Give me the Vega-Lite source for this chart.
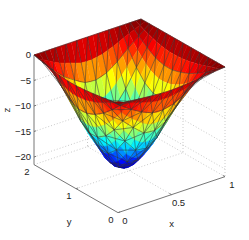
{"$schema":"https://vega.github.io/schema/vega-lite/v6.json","width":249,"height":240,"padding":0,"autosize":{"type":"none"},"background":"white","config":{"view":{"stroke":null}},
"datasets":{"v":[
{"i":20,"j":20,"z":0},{"i":20,"j":19,"z":0},{"i":20,"j":18,"z":0},{"i":20,"j":17,"z":0},{"i":20,"j":16,"z":0},{"i":20,"j":15,"z":0},{"i":20,"j":14,"z":0},{"i":20,"j":13,"z":0},{"i":20,"j":12,"z":0},{"i":20,"j":11,"z":0},{"i":20,"j":10,"z":0},{"i":20,"j":9,"z":0},{"i":20,"j":8,"z":0},{"i":20,"j":7,"z":0},{"i":20,"j":6,"z":0},{"i":20,"j":5,"z":0},{"i":20,"j":4,"z":0},{"i":20,"j":3,"z":0},{"i":20,"j":2,"z":0},{"i":20,"j":1,"z":0},{"i":20,"j":0,"z":0},
{"i":19,"j":20,"z":0},{"i":19,"j":19,"z":-0.4},{"i":19,"j":18,"z":-0.8},{"i":19,"j":17,"z":-1.2},{"i":19,"j":16,"z":-1.5},{"i":19,"j":15,"z":-1.8},{"i":19,"j":14,"z":-2},{"i":19,"j":13,"z":-2.2},{"i":19,"j":12,"z":-2.3},{"i":19,"j":11,"z":-2.3},{"i":19,"j":10,"z":-2.3},{"i":19,"j":9,"z":-2.2},{"i":19,"j":8,"z":-2.1},{"i":19,"j":7,"z":-1.9},{"i":19,"j":6,"z":-1.7},{"i":19,"j":5,"z":-1.5},{"i":19,"j":4,"z":-1.2},{"i":19,"j":3,"z":-0.9},{"i":19,"j":2,"z":-0.6},{"i":19,"j":1,"z":-0.3},{"i":19,"j":0,"z":-0.1},
{"i":18,"j":20,"z":0},{"i":18,"j":19,"z":-0.9},{"i":18,"j":18,"z":-1.7},{"i":18,"j":17,"z":-2.4},{"i":18,"j":16,"z":-3},{"i":18,"j":15,"z":-3.6},{"i":18,"j":14,"z":-4.1},{"i":18,"j":13,"z":-4.4},{"i":18,"j":12,"z":-4.6},{"i":18,"j":11,"z":-4.6},{"i":18,"j":10,"z":-4.6},{"i":18,"j":9,"z":-4.4},{"i":18,"j":8,"z":-4.1},{"i":18,"j":7,"z":-3.8},{"i":18,"j":6,"z":-3.4},{"i":18,"j":5,"z":-2.9},{"i":18,"j":4,"z":-2.4},{"i":18,"j":3,"z":-1.9},{"i":18,"j":2,"z":-1.3},{"i":18,"j":1,"z":-0.6},{"i":18,"j":0,"z":-0.2},
{"i":17,"j":20,"z":0},{"i":17,"j":19,"z":-1.3},{"i":17,"j":18,"z":-2.5},{"i":17,"j":17,"z":-3.6},{"i":17,"j":16,"z":-4.6},{"i":17,"j":15,"z":-5.4},{"i":17,"j":14,"z":-6.1},{"i":17,"j":13,"z":-6.6},{"i":17,"j":12,"z":-6.9},{"i":17,"j":11,"z":-6.9},{"i":17,"j":10,"z":-6.8},{"i":17,"j":9,"z":-6.6},{"i":17,"j":8,"z":-6.2},{"i":17,"j":7,"z":-5.7},{"i":17,"j":6,"z":-5.1},{"i":17,"j":5,"z":-4.4},{"i":17,"j":4,"z":-3.6},{"i":17,"j":3,"z":-2.8},{"i":17,"j":2,"z":-1.9},{"i":17,"j":1,"z":-1},{"i":17,"j":0,"z":-0.3},
{"i":16,"j":20,"z":0},{"i":16,"j":19,"z":-1.8},{"i":16,"j":18,"z":-3.4},{"i":16,"j":17,"z":-4.9},{"i":16,"j":16,"z":-6.2},{"i":16,"j":15,"z":-7.4},{"i":16,"j":14,"z":-8.3},{"i":16,"j":13,"z":-9},{"i":16,"j":12,"z":-9.4},{"i":16,"j":11,"z":-9.5},{"i":16,"j":10,"z":-9.3},{"i":16,"j":9,"z":-9},{"i":16,"j":8,"z":-8.4},{"i":16,"j":7,"z":-7.7},{"i":16,"j":6,"z":-6.9},{"i":16,"j":5,"z":-6},{"i":16,"j":4,"z":-4.9},{"i":16,"j":3,"z":-3.9},{"i":16,"j":2,"z":-2.6},{"i":16,"j":1,"z":-1.3},{"i":16,"j":0,"z":-0.45},
{"i":15,"j":20,"z":0},{"i":15,"j":19,"z":-2.3},{"i":15,"j":18,"z":-4.4},{"i":15,"j":17,"z":-6.3},{"i":15,"j":16,"z":-8},{"i":15,"j":15,"z":-9.5},{"i":15,"j":14,"z":-10.7},{"i":15,"j":13,"z":-11.6},{"i":15,"j":12,"z":-12.1},{"i":15,"j":11,"z":-12.2},{"i":15,"j":10,"z":-12},{"i":15,"j":9,"z":-11.6},{"i":15,"j":8,"z":-10.8},{"i":15,"j":7,"z":-10},{"i":15,"j":6,"z":-8.9},{"i":15,"j":5,"z":-7.7},{"i":15,"j":4,"z":-6.3},{"i":15,"j":3,"z":-5},{"i":15,"j":2,"z":-3.4},{"i":15,"j":1,"z":-1.7},{"i":15,"j":0,"z":-0.6},
{"i":14,"j":20,"z":0},{"i":14,"j":19,"z":-2.8},{"i":14,"j":18,"z":-5.3},{"i":14,"j":17,"z":-7.6},{"i":14,"j":16,"z":-9.7},{"i":14,"j":15,"z":-11.5},{"i":14,"j":14,"z":-12.9},{"i":14,"j":13,"z":-14},{"i":14,"j":12,"z":-14.6},{"i":14,"j":11,"z":-14.7},{"i":14,"j":10,"z":-14.5},{"i":14,"j":9,"z":-14},{"i":14,"j":8,"z":-13.1},{"i":14,"j":7,"z":-12.1},{"i":14,"j":6,"z":-10.7},{"i":14,"j":5,"z":-9.3},{"i":14,"j":4,"z":-7.6},{"i":14,"j":3,"z":-6},{"i":14,"j":2,"z":-4.1},{"i":14,"j":1,"z":-2.1},{"i":14,"j":0,"z":-0.7},
{"i":13,"j":20,"z":0},{"i":13,"j":19,"z":-3.2},{"i":13,"j":18,"z":-6.1},{"i":13,"j":17,"z":-8.8},{"i":13,"j":16,"z":-11.2},{"i":13,"j":15,"z":-13.3},{"i":13,"j":14,"z":-15},{"i":13,"j":13,"z":-16.2},{"i":13,"j":12,"z":-16.8},{"i":13,"j":11,"z":-17},{"i":13,"j":10,"z":-16.7},{"i":13,"j":9,"z":-16.2},{"i":13,"j":8,"z":-15.1},{"i":13,"j":7,"z":-13.9},{"i":13,"j":6,"z":-12.4},{"i":13,"j":5,"z":-10.7},{"i":13,"j":4,"z":-8.8},{"i":13,"j":3,"z":-7},{"i":13,"j":2,"z":-4.8},{"i":13,"j":1,"z":-2.4},{"i":13,"j":0,"z":-0.8},
{"i":12,"j":20,"z":0},{"i":12,"j":19,"z":-3.6},{"i":12,"j":18,"z":-6.8},{"i":12,"j":17,"z":-9.8},{"i":12,"j":16,"z":-12.5},{"i":12,"j":15,"z":-14.7},{"i":12,"j":14,"z":-16.6},{"i":12,"j":13,"z":-18},{"i":12,"j":12,"z":-18.7},{"i":12,"j":11,"z":-18.9},{"i":12,"j":10,"z":-18.6},{"i":12,"j":9,"z":-18},{"i":12,"j":8,"z":-16.8},{"i":12,"j":7,"z":-15.5},{"i":12,"j":6,"z":-13.8},{"i":12,"j":5,"z":-11.9},{"i":12,"j":4,"z":-9.8},{"i":12,"j":3,"z":-7.7},{"i":12,"j":2,"z":-5.3},{"i":12,"j":1,"z":-2.6},{"i":12,"j":0,"z":-0.9},
{"i":11,"j":20,"z":0},{"i":11,"j":19,"z":-3.8},{"i":11,"j":18,"z":-7.3},{"i":11,"j":17,"z":-10.5},{"i":11,"j":16,"z":-13.3},{"i":11,"j":15,"z":-15.7},{"i":11,"j":14,"z":-17.7},{"i":11,"j":13,"z":-19.2},{"i":11,"j":12,"z":-20},{"i":11,"j":11,"z":-20.2},{"i":11,"j":10,"z":-19.9},{"i":11,"j":9,"z":-19.2},{"i":11,"j":8,"z":-17.9},{"i":11,"j":7,"z":-16.5},{"i":11,"j":6,"z":-14.7},{"i":11,"j":5,"z":-12.7},{"i":11,"j":4,"z":-10.5},{"i":11,"j":3,"z":-8.3},{"i":11,"j":2,"z":-5.6},{"i":11,"j":1,"z":-2.8},{"i":11,"j":0,"z":-0.95},
{"i":10,"j":20,"z":0},{"i":10,"j":19,"z":-4},{"i":10,"j":18,"z":-7.5},{"i":10,"j":17,"z":-10.8},{"i":10,"j":16,"z":-13.7},{"i":10,"j":15,"z":-16.2},{"i":10,"j":14,"z":-18.3},{"i":10,"j":13,"z":-19.8},{"i":10,"j":12,"z":-20.6},{"i":10,"j":11,"z":-20.8},{"i":10,"j":10,"z":-20.5},{"i":10,"j":9,"z":-19.8},{"i":10,"j":8,"z":-18.5},{"i":10,"j":7,"z":-17},{"i":10,"j":6,"z":-15.2},{"i":10,"j":5,"z":-13.1},{"i":10,"j":4,"z":-10.8},{"i":10,"j":3,"z":-8.5},{"i":10,"j":2,"z":-5.8},{"i":10,"j":1,"z":-2.9},{"i":10,"j":0,"z":-1},
{"i":9,"j":20,"z":0},{"i":9,"j":19,"z":-4},{"i":9,"j":18,"z":-7.6},{"i":9,"j":17,"z":-10.9},{"i":9,"j":16,"z":-13.9},{"i":9,"j":15,"z":-16.4},{"i":9,"j":14,"z":-18.5},{"i":9,"j":13,"z":-20},{"i":9,"j":12,"z":-20.8},{"i":9,"j":11,"z":-21},{"i":9,"j":10,"z":-20.7},{"i":9,"j":9,"z":-20},{"i":9,"j":8,"z":-18.7},{"i":9,"j":7,"z":-17.2},{"i":9,"j":6,"z":-15.3},{"i":9,"j":5,"z":-13.2},{"i":9,"j":4,"z":-10.9},{"i":9,"j":3,"z":-8.6},{"i":9,"j":2,"z":-5.9},{"i":9,"j":1,"z":-2.9},{"i":9,"j":0,"z":-1},
{"i":8,"j":20,"z":0},{"i":8,"j":19,"z":-3.9},{"i":8,"j":18,"z":-7.3},{"i":8,"j":17,"z":-10.6},{"i":8,"j":16,"z":-13.4},{"i":8,"j":15,"z":-15.9},{"i":8,"j":14,"z":-17.9},{"i":8,"j":13,"z":-19.4},{"i":8,"j":12,"z":-20.2},{"i":8,"j":11,"z":-20.4},{"i":8,"j":10,"z":-20.1},{"i":8,"j":9,"z":-19.4},{"i":8,"j":8,"z":-18.1},{"i":8,"j":7,"z":-16.7},{"i":8,"j":6,"z":-14.9},{"i":8,"j":5,"z":-12.8},{"i":8,"j":4,"z":-10.6},{"i":8,"j":3,"z":-8.4},{"i":8,"j":2,"z":-5.7},{"i":8,"j":1,"z":-2.9},{"i":8,"j":0,"z":-0.95},
{"i":7,"j":20,"z":0},{"i":7,"j":19,"z":-3.6},{"i":7,"j":18,"z":-6.9},{"i":7,"j":17,"z":-9.9},{"i":7,"j":16,"z":-12.6},{"i":7,"j":15,"z":-14.9},{"i":7,"j":14,"z":-16.8},{"i":7,"j":13,"z":-18.1},{"i":7,"j":12,"z":-18.9},{"i":7,"j":11,"z":-19.1},{"i":7,"j":10,"z":-18.8},{"i":7,"j":9,"z":-18.1},{"i":7,"j":8,"z":-17},{"i":7,"j":7,"z":-15.7},{"i":7,"j":6,"z":-13.9},{"i":7,"j":5,"z":-12},{"i":7,"j":4,"z":-9.9},{"i":7,"j":3,"z":-7.8},{"i":7,"j":2,"z":-5.3},{"i":7,"j":1,"z":-2.7},{"i":7,"j":0,"z":-0.9},
{"i":6,"j":20,"z":0},{"i":6,"j":19,"z":-3.2},{"i":6,"j":18,"z":-6.1},{"i":6,"j":17,"z":-8.8},{"i":6,"j":16,"z":-11.2},{"i":6,"j":15,"z":-13.3},{"i":6,"j":14,"z":-15},{"i":6,"j":13,"z":-16.2},{"i":6,"j":12,"z":-16.8},{"i":6,"j":11,"z":-17},{"i":6,"j":10,"z":-16.7},{"i":6,"j":9,"z":-16.2},{"i":6,"j":8,"z":-15.1},{"i":6,"j":7,"z":-13.9},{"i":6,"j":6,"z":-12.4},{"i":6,"j":5,"z":-10.7},{"i":6,"j":4,"z":-8.8},{"i":6,"j":3,"z":-7},{"i":6,"j":2,"z":-4.8},{"i":6,"j":1,"z":-2.4},{"i":6,"j":0,"z":-0.8},
{"i":5,"j":20,"z":0},{"i":5,"j":19,"z":-2.9},{"i":5,"j":18,"z":-5.4},{"i":5,"j":17,"z":-7.9},{"i":5,"j":16,"z":-10},{"i":5,"j":15,"z":-11.8},{"i":5,"j":14,"z":-13.3},{"i":5,"j":13,"z":-14.4},{"i":5,"j":12,"z":-15},{"i":5,"j":11,"z":-15.1},{"i":5,"j":10,"z":-14.9},{"i":5,"j":9,"z":-14.4},{"i":5,"j":8,"z":-13.5},{"i":5,"j":7,"z":-12.4},{"i":5,"j":6,"z":-11},{"i":5,"j":5,"z":-9.5},{"i":5,"j":4,"z":-7.9},{"i":5,"j":3,"z":-6.2},{"i":5,"j":2,"z":-4.2},{"i":5,"j":1,"z":-2.1},{"i":5,"j":0,"z":-0.7},
{"i":4,"j":20,"z":0},{"i":4,"j":19,"z":-2.5},{"i":4,"j":18,"z":-4.7},{"i":4,"j":17,"z":-6.8},{"i":4,"j":16,"z":-8.6},{"i":4,"j":15,"z":-10.2},{"i":4,"j":14,"z":-11.5},{"i":4,"j":13,"z":-12.4},{"i":4,"j":12,"z":-12.9},{"i":4,"j":11,"z":-13},{"i":4,"j":10,"z":-12.8},{"i":4,"j":9,"z":-12.4},{"i":4,"j":8,"z":-11.6},{"i":4,"j":7,"z":-10.7},{"i":4,"j":6,"z":-9.5},{"i":4,"j":5,"z":-8.2},{"i":4,"j":4,"z":-6.8},{"i":4,"j":3,"z":-5.3},{"i":4,"j":2,"z":-3.6},{"i":4,"j":1,"z":-1.8},{"i":4,"j":0,"z":-0.6},
{"i":3,"j":20,"z":0},{"i":3,"j":19,"z":-2},{"i":3,"j":18,"z":-3.8},{"i":3,"j":17,"z":-5.5},{"i":3,"j":16,"z":-6.9},{"i":3,"j":15,"z":-8.2},{"i":3,"j":14,"z":-9.2},{"i":3,"j":13,"z":-10},{"i":3,"j":12,"z":-10.4},{"i":3,"j":11,"z":-10.5},{"i":3,"j":10,"z":-10.3},{"i":3,"j":9,"z":-10},{"i":3,"j":8,"z":-9.3},{"i":3,"j":7,"z":-8.6},{"i":3,"j":6,"z":-7.7},{"i":3,"j":5,"z":-6.6},{"i":3,"j":4,"z":-5.5},{"i":3,"j":3,"z":-4.3},{"i":3,"j":2,"z":-2.9},{"i":3,"j":1,"z":-1.5},{"i":3,"j":0,"z":-0.5},
{"i":2,"j":20,"z":0},{"i":2,"j":19,"z":-1.4},{"i":2,"j":18,"z":-2.7},{"i":2,"j":17,"z":-3.9},{"i":2,"j":16,"z":-5},{"i":2,"j":15,"z":-5.9},{"i":2,"j":14,"z":-6.7},{"i":2,"j":13,"z":-7.2},{"i":2,"j":12,"z":-7.5},{"i":2,"j":11,"z":-7.6},{"i":2,"j":10,"z":-7.4},{"i":2,"j":9,"z":-7.2},{"i":2,"j":8,"z":-6.7},{"i":2,"j":7,"z":-6.2},{"i":2,"j":6,"z":-5.5},{"i":2,"j":5,"z":-4.8},{"i":2,"j":4,"z":-3.9},{"i":2,"j":3,"z":-3.1},{"i":2,"j":2,"z":-2.1},{"i":2,"j":1,"z":-1.1},{"i":2,"j":0,"z":-0.35},
{"i":1,"j":20,"z":0},{"i":1,"j":19,"z":-0.8},{"i":1,"j":18,"z":-1.5},{"i":1,"j":17,"z":-2.2},{"i":1,"j":16,"z":-2.8},{"i":1,"j":15,"z":-3.3},{"i":1,"j":14,"z":-3.7},{"i":1,"j":13,"z":-4},{"i":1,"j":12,"z":-4.2},{"i":1,"j":11,"z":-4.2},{"i":1,"j":10,"z":-4.1},{"i":1,"j":9,"z":-4},{"i":1,"j":8,"z":-3.7},{"i":1,"j":7,"z":-3.4},{"i":1,"j":6,"z":-3.1},{"i":1,"j":5,"z":-2.6},{"i":1,"j":4,"z":-2.2},{"i":1,"j":3,"z":-1.7},{"i":1,"j":2,"z":-1.2},{"i":1,"j":1,"z":-0.6},{"i":1,"j":0,"z":-0.25},
{"i":0,"j":20,"z":0},{"i":0,"j":19,"z":-0.25},{"i":0,"j":18,"z":-0.45},{"i":0,"j":17,"z":-0.7},{"i":0,"j":16,"z":-0.85},{"i":0,"j":15,"z":-1},{"i":0,"j":14,"z":-1.15},{"i":0,"j":13,"z":-1.2},{"i":0,"j":12,"z":-1.3},{"i":0,"j":11,"z":-1.3},{"i":0,"j":10,"z":-1.3},{"i":0,"j":9,"z":-1.2},{"i":0,"j":8,"z":-1.15},{"i":0,"j":7,"z":-1.05},{"i":0,"j":6,"z":-0.95},{"i":0,"j":5,"z":-0.8},{"i":0,"j":4,"z":-0.7},{"i":0,"j":3,"z":-0.5},{"i":0,"j":2,"z":-0.4},{"i":0,"j":1,"z":-0.3},{"i":0,"j":0,"z":-0.3}
],
"g":[
{"t":"grid","x":0,"y":2,"z":0,"u":1,"v":2,"w":0},{"t":"grid","x":0,"y":2,"z":-5,"u":1,"v":2,"w":-5},{"t":"grid","x":0,"y":2,"z":-10,"u":1,"v":2,"w":-10},{"t":"grid","x":0,"y":2,"z":-15,"u":1,"v":2,"w":-15},{"t":"grid","x":0,"y":2,"z":-20,"u":1,"v":2,"w":-20},
{"t":"grid","x":1,"y":2,"z":0,"u":1,"v":0,"w":0},{"t":"grid","x":1,"y":2,"z":-5,"u":1,"v":0,"w":-5},{"t":"grid","x":1,"y":2,"z":-10,"u":1,"v":0,"w":-10},{"t":"grid","x":1,"y":2,"z":-15,"u":1,"v":0,"w":-15},{"t":"grid","x":1,"y":2,"z":-20,"u":1,"v":0,"w":-20},
{"t":"grid","x":0.5,"y":2,"z":0,"u":0.5,"v":2,"w":-21.5},{"t":"grid","x":1,"y":2,"z":0,"u":1,"v":2,"w":-21.5},{"t":"grid","x":1,"y":1,"z":0,"u":1,"v":1,"w":-21.5},{"t":"grid","x":1,"y":0,"z":0,"u":1,"v":0,"w":-21.5},
{"t":"grid","x":0.5,"y":0,"z":-21.5,"u":0.5,"v":2,"w":-21.5},{"t":"grid","x":0,"y":1,"z":-21.5,"u":1,"v":1,"w":-21.5},{"t":"grid","x":0,"y":2,"z":-21.5,"u":1,"v":2,"w":-21.5},{"t":"grid","x":1,"y":0,"z":-21.5,"u":1,"v":2,"w":-21.5},
{"t":"axis","x":0,"y":2,"z":0,"u":0,"v":2,"w":-21.5},{"t":"axis","x":0,"y":0,"z":-21.5,"u":0,"v":2,"w":-21.5},{"t":"axis","x":0,"y":0,"z":-21.5,"u":1,"v":0,"w":-21.5},
{"t":"axis","x":0,"y":2,"z":0,"u":0.02,"v":2,"w":0},{"t":"axis","x":0,"y":2,"z":-5,"u":0.02,"v":2,"w":-5},{"t":"axis","x":0,"y":2,"z":-10,"u":0.02,"v":2,"w":-10},{"t":"axis","x":0,"y":2,"z":-15,"u":0.02,"v":2,"w":-15},{"t":"axis","x":0,"y":2,"z":-20,"u":0.02,"v":2,"w":-20},
{"t":"axis","x":0.5,"y":0,"z":-21.5,"u":0.5,"v":0.05,"w":-21.5},{"t":"axis","x":1,"y":0,"z":-21.5,"u":1,"v":0.05,"w":-21.5},{"t":"axis","x":0,"y":1,"z":-21.5,"u":0.02,"v":1,"w":-21.5},{"t":"axis","x":0,"y":0,"z":-21.5,"u":0.02,"v":0,"w":-21.5}
],
"l":[
{"t":"z","x":0,"y":2,"z":0,"s":"0"},{"t":"z","x":0,"y":2,"z":-5,"s":"−5"},{"t":"z","x":0,"y":2,"z":-10,"s":"−10"},{"t":"z","x":0,"y":2,"z":-15,"s":"−15"},{"t":"z","x":0,"y":2,"z":-20,"s":"−20"},
{"t":"x","x":0,"y":0,"z":-21.5,"s":"0"},{"t":"x","x":0.5,"y":0,"z":-21.5,"s":"0.5"},{"t":"x","x":1,"y":0,"z":-21.5,"s":"1"},
{"t":"y","x":0,"y":0,"z":-21.5,"s":"0"},{"t":"y","x":0,"y":1,"z":-21.5,"s":"1"},{"t":"y","x":0,"y":2,"z":-21.5,"s":"2"},
{"t":"tx","x":0.5,"y":0,"z":-21.5,"s":"x"},{"t":"ty","x":0,"y":1,"z":-21.5,"s":"y"},{"t":"tz","x":0,"y":2,"z":-10,"s":"z"}
]},
"layer":[
{"data":{"name":"g"},"transform":[{"filter":"datum.t=='grid'"},{"calculate":"118+107*datum.x-42*datum.y","as":"px"},{"calculate":"103-36*datum.x-24*datum.y-5.1*datum.z","as":"py"},{"calculate":"118+107*datum.u-42*datum.v","as":"qx"},{"calculate":"103-36*datum.u-24*datum.v-5.1*datum.w","as":"qy"}],
"mark":{"type":"rule","stroke":"#bdbdbd","strokeWidth":0.8,"strokeDash":[1,2]},
"encoding":{"x":{"field":"px","type":"quantitative","scale":{"domain":[0,249],"nice":false,"zero":false},"axis":null},"y":{"field":"py","type":"quantitative","scale":{"domain":[240,0],"nice":false,"zero":false},"axis":null},"x2":{"field":"qx"},"y2":{"field":"qy"}}},
{"data":{"name":"g"},"transform":[{"filter":"datum.t=='axis'"},{"calculate":"118+107*datum.x-42*datum.y","as":"px"},{"calculate":"103-36*datum.x-24*datum.y-5.1*datum.z","as":"py"},{"calculate":"118+107*datum.u-42*datum.v","as":"qx"},{"calculate":"103-36*datum.u-24*datum.v-5.1*datum.w","as":"qy"}],
"mark":{"type":"rule","stroke":"#777777","strokeWidth":1},
"encoding":{"x":{"field":"px","type":"quantitative","axis":null},"y":{"field":"py","type":"quantitative","axis":null},"x2":{"field":"qx"},"y2":{"field":"qy"}}},
{"data":{"name":"v"},"transform":[{"calculate":"datum.i*100+datum.j","as":"k"},{"calculate":"[datum.k-101,datum.k-100,datum.k-1,datum.k]","as":"q"},{"calculate":"[2,1,3,0]","as":"c"},{"flatten":["q","c"]},{"filter":"datum.q>=0 && datum.q%100<20 && datum.q<2000"},{"filter":"floor(datum.q/100)+datum.q%100>=20"},{"joinaggregate":[{"op":"mean","field":"z","as":"m"}],"groupby":["q"]},{"calculate":"118+5.35*datum.i-4.2*datum.j","as":"px"},{"calculate":"103-1.8*datum.i-2.4*datum.j-5.1*datum.z","as":"py"}],
"mark":{"type":"line","strokeWidth":0.5},
"encoding":{"x":{"field":"px","type":"quantitative","axis":null},"y":{"field":"py","type":"quantitative","axis":null},"detail":{"field":"q"},"order":{"field":"c","type":"quantitative"},
"fill":{"field":"m","type":"quantitative","legend":null,"scale":{"domain":[-21,-18.375,-13.125,-7.875,-2.625,0],"range":["#00007f","#0000ff","#00ffff","#ffff00","#ff0000","#7f0000"],"interpolate":"rgb"}},
"stroke":{"field":"m","type":"quantitative","legend":null,"scale":{"domain":[-21,-18.375,-13.125,-7.875,-2.625,0],"range":["#00007f","#0000ff","#00ffff","#ffff00","#ff0000","#7f0000"],"interpolate":"rgb"}}}},
{"data":{"name":"v"},"transform":[{"filter":"datum.i%2==0 && datum.j%2==0 && datum.i+datum.j>=20"},{"calculate":"'a'+datum.i","as":"la"},{"calculate":"'b'+datum.j","as":"lb"},{"calculate":"'c'+(datum.i-datum.j)","as":"lc"},{"fold":["la","lb","lc"],"as":["w","l"]},{"calculate":"datum.i+datum.j","as":"s"},{"calculate":"118+5.35*datum.i-4.2*datum.j","as":"px"},{"calculate":"103-1.8*datum.i-2.4*datum.j-5.1*datum.z","as":"py"}],
"mark":{"type":"line","stroke":"#333333","strokeWidth":0.7,"strokeOpacity":0.75},
"encoding":{"x":{"field":"px","type":"quantitative","axis":null},"y":{"field":"py","type":"quantitative","axis":null},"detail":{"field":"l"},"order":{"field":"s","type":"quantitative"}}},
{"data":{"name":"v"},"transform":[{"calculate":"datum.i*100+datum.j","as":"k"},{"calculate":"[datum.k-101,datum.k-100,datum.k-1,datum.k]","as":"q"},{"calculate":"[2,1,3,0]","as":"c"},{"flatten":["q","c"]},{"filter":"datum.q>=0 && datum.q%100<20 && datum.q<2000"},{"filter":"floor(datum.q/100)+datum.q%100<20"},{"joinaggregate":[{"op":"mean","field":"z","as":"m"}],"groupby":["q"]},{"calculate":"118+5.35*datum.i-4.2*datum.j","as":"px"},{"calculate":"103-1.8*datum.i-2.4*datum.j-5.1*datum.z","as":"py"}],
"mark":{"type":"line","strokeWidth":0.5},
"encoding":{"x":{"field":"px","type":"quantitative","axis":null},"y":{"field":"py","type":"quantitative","axis":null},"detail":{"field":"q"},"order":{"field":"c","type":"quantitative"},
"fill":{"field":"m","type":"quantitative","legend":null,"scale":{"domain":[-21,-18.375,-13.125,-7.875,-2.625,0],"range":["#00007f","#0000ff","#00ffff","#ffff00","#ff0000","#7f0000"],"interpolate":"rgb"}},
"stroke":{"field":"m","type":"quantitative","legend":null,"scale":{"domain":[-21,-18.375,-13.125,-7.875,-2.625,0],"range":["#00007f","#0000ff","#00ffff","#ffff00","#ff0000","#7f0000"],"interpolate":"rgb"}}}},
{"data":{"name":"v"},"transform":[{"filter":"datum.i%2==0 && datum.j%2==0 && datum.i+datum.j<=20"},{"calculate":"'a'+datum.i","as":"la"},{"calculate":"'b'+datum.j","as":"lb"},{"calculate":"'c'+(datum.i-datum.j)","as":"lc"},{"calculate":"'d'+(datum.i+datum.j)","as":"ld"},{"fold":["la","lb","lc","ld"],"as":["w","l"]},{"calculate":"datum.w=='ld' ? datum.i : datum.i+datum.j","as":"s"},{"calculate":"118+5.35*datum.i-4.2*datum.j","as":"px"},{"calculate":"103-1.8*datum.i-2.4*datum.j-5.1*datum.z","as":"py"}],
"mark":{"type":"line","stroke":"#333333","strokeWidth":0.7,"strokeOpacity":0.75},
"encoding":{"x":{"field":"px","type":"quantitative","axis":null},"y":{"field":"py","type":"quantitative","axis":null},"detail":{"field":"l"},"order":{"field":"s","type":"quantitative"}}},
{"data":{"name":"l"},"transform":[{"filter":"datum.t=='z'"},{"calculate":"118+107*datum.x-42*datum.y","as":"px"},{"calculate":"103-36*datum.x-24*datum.y-5.1*datum.z","as":"py"}],
"mark":{"type":"text","font":"Liberation Sans","fontSize":9.5,"fill":"#222222","align":"right","baseline":"middle","dx":-3},
"encoding":{"x":{"field":"px","type":"quantitative","axis":null},"y":{"field":"py","type":"quantitative","axis":null},"text":{"field":"s"}}},
{"data":{"name":"l"},"transform":[{"filter":"datum.t=='x'"},{"calculate":"118+107*datum.x-42*datum.y","as":"px"},{"calculate":"103-36*datum.x-24*datum.y-5.1*datum.z","as":"py"}],
"mark":{"type":"text","font":"Liberation Sans","fontSize":9.5,"fill":"#222222","align":"center","baseline":"middle","dx":7,"dy":8},
"encoding":{"x":{"field":"px","type":"quantitative","axis":null},"y":{"field":"py","type":"quantitative","axis":null},"text":{"field":"s"}}},
{"data":{"name":"l"},"transform":[{"filter":"datum.t=='y'"},{"calculate":"118+107*datum.x-42*datum.y","as":"px"},{"calculate":"103-36*datum.x-24*datum.y-5.1*datum.z","as":"py"}],
"mark":{"type":"text","font":"Liberation Sans","fontSize":9.5,"fill":"#222222","align":"center","baseline":"middle","dx":-7,"dy":7},
"encoding":{"x":{"field":"px","type":"quantitative","axis":null},"y":{"field":"py","type":"quantitative","axis":null},"text":{"field":"s"}}},
{"data":{"name":"l"},"transform":[{"filter":"datum.t=='tx'"},{"calculate":"118+107*datum.x-42*datum.y","as":"px"},{"calculate":"103-36*datum.x-24*datum.y-5.1*datum.z","as":"py"}],
"mark":{"type":"text","font":"Liberation Sans","fontSize":9.5,"fill":"#222222","align":"center","baseline":"middle","dy":29},
"encoding":{"x":{"field":"px","type":"quantitative","axis":null},"y":{"field":"py","type":"quantitative","axis":null},"text":{"field":"s"}}},
{"data":{"name":"l"},"transform":[{"filter":"datum.t=='ty'"},{"calculate":"118+107*datum.x-42*datum.y","as":"px"},{"calculate":"103-36*datum.x-24*datum.y-5.1*datum.z","as":"py"}],
"mark":{"type":"text","font":"Liberation Sans","fontSize":9.5,"fill":"#222222","align":"center","baseline":"middle","dx":-7,"dy":33},
"encoding":{"x":{"field":"px","type":"quantitative","axis":null},"y":{"field":"py","type":"quantitative","axis":null},"text":{"field":"s"}}},
{"data":{"name":"l"},"transform":[{"filter":"datum.t=='tz'"},{"calculate":"118+107*datum.x-42*datum.y","as":"px"},{"calculate":"103-36*datum.x-24*datum.y-5.1*datum.z","as":"py"}],
"mark":{"type":"text","font":"Liberation Sans","fontSize":9.5,"fill":"#222222","align":"center","baseline":"middle","angle":270,"dx":-4,"dy":-27},
"encoding":{"x":{"field":"px","type":"quantitative","axis":null},"y":{"field":"py","type":"quantitative","axis":null},"text":{"field":"s"}}}
]}
